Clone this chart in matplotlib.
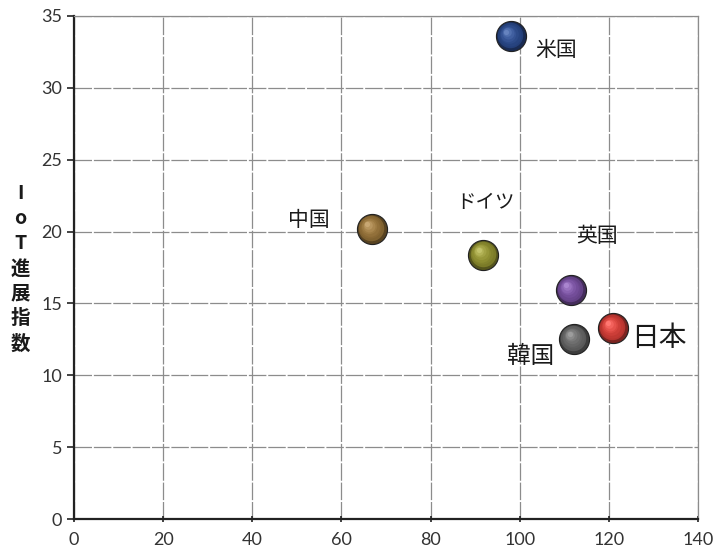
import numpy as np
import matplotlib
matplotlib.use("Agg")
import matplotlib.pyplot as plt
import matplotlib.colors as mcolors
from matplotlib.transforms import offset_copy

plt.rcParams['font.family'] = ['Noto Sans CJK JP', 'DejaVu Sans']

# IoT index per country
countries = ['米国', '中国', 'ドイツ', '英国', '日本', '韓国']
x_vals = [98.0, 66.8, 91.8, 111.4, 120.9, 112.2]
y_vals = [33.6, 20.2, 18.4, 15.95, 13.3, 12.55]
ball_colors = ['#2d4f96', '#a07a3c', '#9a9a32', '#7d52a8', '#e2413a', '#6e6e6e']

# label positions and sizes
label_x = [108.2, 52.8, 92.3, 117.4, 131.3, 102.4]
label_y = [32.6, 20.8, 22.0, 19.7, 12.6, 11.3]
label_size = [15, 15, 14, 15, 20, 17]

fig = plt.figure(figsize=(7.15, 5.49), dpi=100)
ax = fig.add_axes([0.1035, 0.0546, 0.8727, 0.9163])

ax.set_xlim(0, 140)
ax.set_ylim(0, 35)
ax.set_xticks(np.arange(0, 141, 20))
ax.set_yticks(np.arange(0, 36, 5))
ax.grid(True, color='#8c8c8c', linewidth=0.9, linestyle=(0, (14, 1.5)))
ax.set_axisbelow(True)

for side in ['top', 'right']:
    ax.spines[side].set_color('#8c8c8c')
    ax.spines[side].set_linewidth(0.9)
for side in ['left', 'bottom']:
    ax.spines[side].set_color('#222222')
    ax.spines[side].set_linewidth(1.6)

ax.tick_params(axis='both', labelsize=13, colors='#222222', length=5, width=1.2)
ax.tick_params(axis='x', direction='inout', pad=7)
for lab in ax.get_xticklabels() + ax.get_yticklabels():
    lab.set_family(['Lato', 'DejaVu Sans'])
    lab.set_color('#333333')

# spheres: dark base, then lighter layers shifted toward the upper left
size = 470
for xv, yv, c in zip(x_vals, y_vals, ball_colors):
    base = np.array(mcolors.to_rgb(c))
    dark = base * 0.55
    ax.scatter([xv], [yv], s=size, color=dark, edgecolors='#222222',
               linewidths=0.8, zorder=3)
    layers = 7
    for k in range(1, layers + 1):
        t = k / layers
        col = base * (0.75 + 0.35 * t) + (1 - base) * 0.25 * t ** 3
        col = np.clip(col, 0, 1)
        frac = 1 - 0.82 * t
        tr = offset_copy(ax.transData, fig=fig, x=-3.2 * t, y=3.2 * t,
                         units='points')
        ax.scatter([xv], [yv], s=size * frac ** 2 * 0.92, color=col,
                   linewidths=0, zorder=3 + k, transform=tr)

for name, lx, ly, fs in zip(countries, label_x, label_y, label_size):
    ax.text(lx, ly, name, fontsize=fs, ha='center', va='center',
            color='#1a1a1a', zorder=20)

# vertical stacked axis title
fig.text(0.028, 0.51, 'I\no\nT\n進\n展\n指\n数', fontsize=14,
         fontweight='bold', ha='center', va='center', linespacing=1.4,
         color='#1a1a1a')

fig.savefig('out.png', dpi=100)
